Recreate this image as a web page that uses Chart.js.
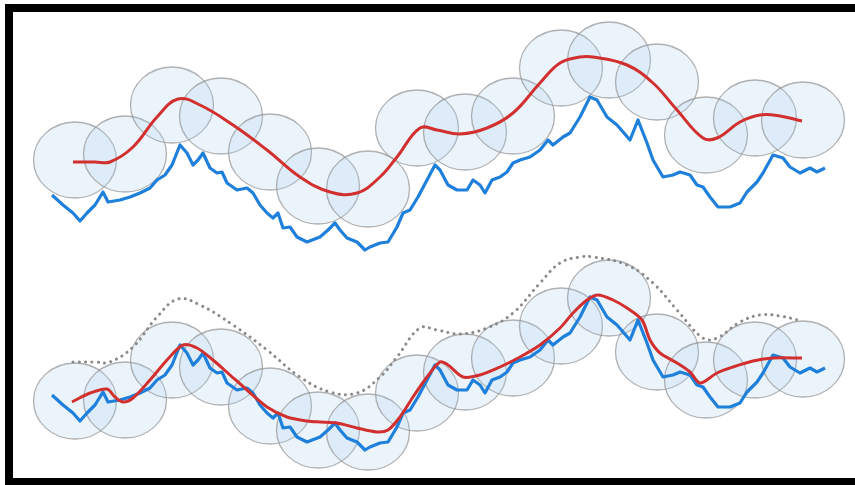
<!DOCTYPE html>
<html>
<head>
<meta charset="utf-8">
<script src="https://cdn.jsdelivr.net/npm/chart.js@4.4.1/dist/chart.umd.min.js"></script>
<style>
body { margin: 0; background: #fff; width: 855px; height: 485px; overflow: hidden; position: relative; }
#frame { position: absolute; left: 5px; top: 4px; width: 850px; height: 481px; box-sizing: border-box;
         border-left: 8px solid #000; border-top: 8px solid #000; border-bottom: 7px solid #000; }
canvas { position: absolute; left: 0; }
#topChart { top: 0; }
#bottomChart { top: 200px; }
</style>
</head>
<body>
<div id="frame"></div>
<canvas id="topChart" width="855" height="285"></canvas>
<canvas id="bottomChart" width="855" height="285"></canvas>
<script>
// observed series (same in both panels)
const obsX = [52,63,73,80,87,95,103,108,120,130,140,150,157,165,172,180,187,193,198,203,210,217,222,227,237,247,253,260,267,273,278,283,290,297,307,320,328,335,340,347,357,365,370,380,388,397,403,410,418,427,435,440,448,457,467,473,480,485,492,500,507,513,520,530,540,548,553,563,570,580,590,597,607,617,630,638,647,653,663,673,680,690,697,703,710,718,730,740,747,757,763,773,783,790,800,810,817,825];
const obsY = [90,80,72,64,72,80,93,83,85,88,92,97,105,110,120,140,132,120,125,132,117,112,113,102,95,97,92,80,72,67,72,57,58,48,43,48,55,62,55,47,43,35,38,42,43,58,72,75,88,105,120,115,100,95,95,105,100,92,105,108,113,122,125,128,135,145,140,148,152,168,188,185,168,160,145,165,142,125,108,110,113,110,100,98,88,78,78,82,93,103,112,130,127,118,112,117,113,117];

// prior estimate (top red, dotted in bottom panel)
const priorX = [73,95,110,133,157,178,200,233,267,300,330,357,380,397,420,437,460,487,513,540,560,580,593,627,653,677,703,717,740,760,780,802];
const priorY = [123,123,123,138,168,186,180,160,135,108,93,92,108,128,157,155,151,157,172,202,222,228,228,220,202,175,147,147,163,170,169,164];

// posterior estimate (bottom red)
const postX = [72,90,107,115,123,133,150,167,183,197,213,230,247,267,287,307,320,337,357,377,388,400,413,427,440,448,463,480,500,520,540,560,573,587,598,613,627,642,650,660,677,690,700,717,733,753,773,802];
const postY = [83,92,96,88,83,87,105,125,140,137,125,110,95,78,68,64,63,62,57,53,55,68,88,108,123,120,108,110,118,128,140,157,172,185,190,185,177,165,145,132,122,113,102,112,118,124,127,127];

// particles
const particleX = [75,125,172,221,270,318,368,417,465,513,561,609,657,706,755,803];
const priorParticleY = [125,131,180,169,133,99,96,157,153,169,217,225,203,150,167,165];
const postParticleY = [84,85,125,118,79,55,53,92,113,127,159,187,133,105,125,126];

const pts = (xs, ys) => xs.map((x, i) => ({ x: x, y: ys[i] }));

// ellipse used as point style for the particles
function particleImage() {
    const c = document.createElement('canvas');
    c.width = 86; c.height = 80;
    const g = c.getContext('2d');
    g.beginPath();
    g.ellipse(43, 40, 41.5, 38, 0, 0, Math.PI * 2);
    g.fillStyle = 'rgba(170,204,238,0.22)';
    g.fill();
    g.lineWidth = 1.3;
    g.strokeStyle = 'rgba(145,145,145,0.7)';
    g.stroke();
    return c;
}
const particle = particleImage();

function redLine(data, tension) {
    return { type: 'line', data: data, borderColor: '#d22f2f', borderWidth: 3,
             tension: tension, pointRadius: 0, clip: false };
}
function blueLine() {
    return { type: 'line', data: pts(obsX, obsY), borderColor: '#1f80dc', borderWidth: 3.2,
             borderJoinStyle: 'round', tension: 0, pointRadius: 0, clip: false };
}
function particles(ys) {
    return { type: 'scatter', data: pts(particleX, ys), pointStyle: particle,
             pointRadius: 40, clip: false };
}

function renderPanel(id, datasets) {
    return new Chart(document.getElementById(id), {
        type: 'line',
        data: { datasets: datasets },
        options: {
            responsive: false,
            animation: false,
            events: [],
            layout: { padding: 0, autoPadding: false },
            plugins: { legend: { display: false }, tooltip: { enabled: false } },
            scales: {
                x: { type: 'linear', min: 0, max: 855, display: false },
                y: { type: 'linear', min: 0, max: 285, display: false }
            }
        }
    });
}

renderPanel('topChart', [
    redLine(pts(priorX, priorY), 0.4),
    blueLine(),
    particles(priorParticleY)
]);

renderPanel('bottomChart', [
    redLine(pts(postX, postY), 0.3),
    blueLine(),
    { type: 'line', data: pts(priorX, priorY), borderColor: '#8a8a8a', borderWidth: 3,
      borderDash: [0.1, 6.2], borderCapStyle: 'round', tension: 0.4, pointRadius: 0, clip: false },
    particles(postParticleY)
]);
</script>
</body>
</html>
